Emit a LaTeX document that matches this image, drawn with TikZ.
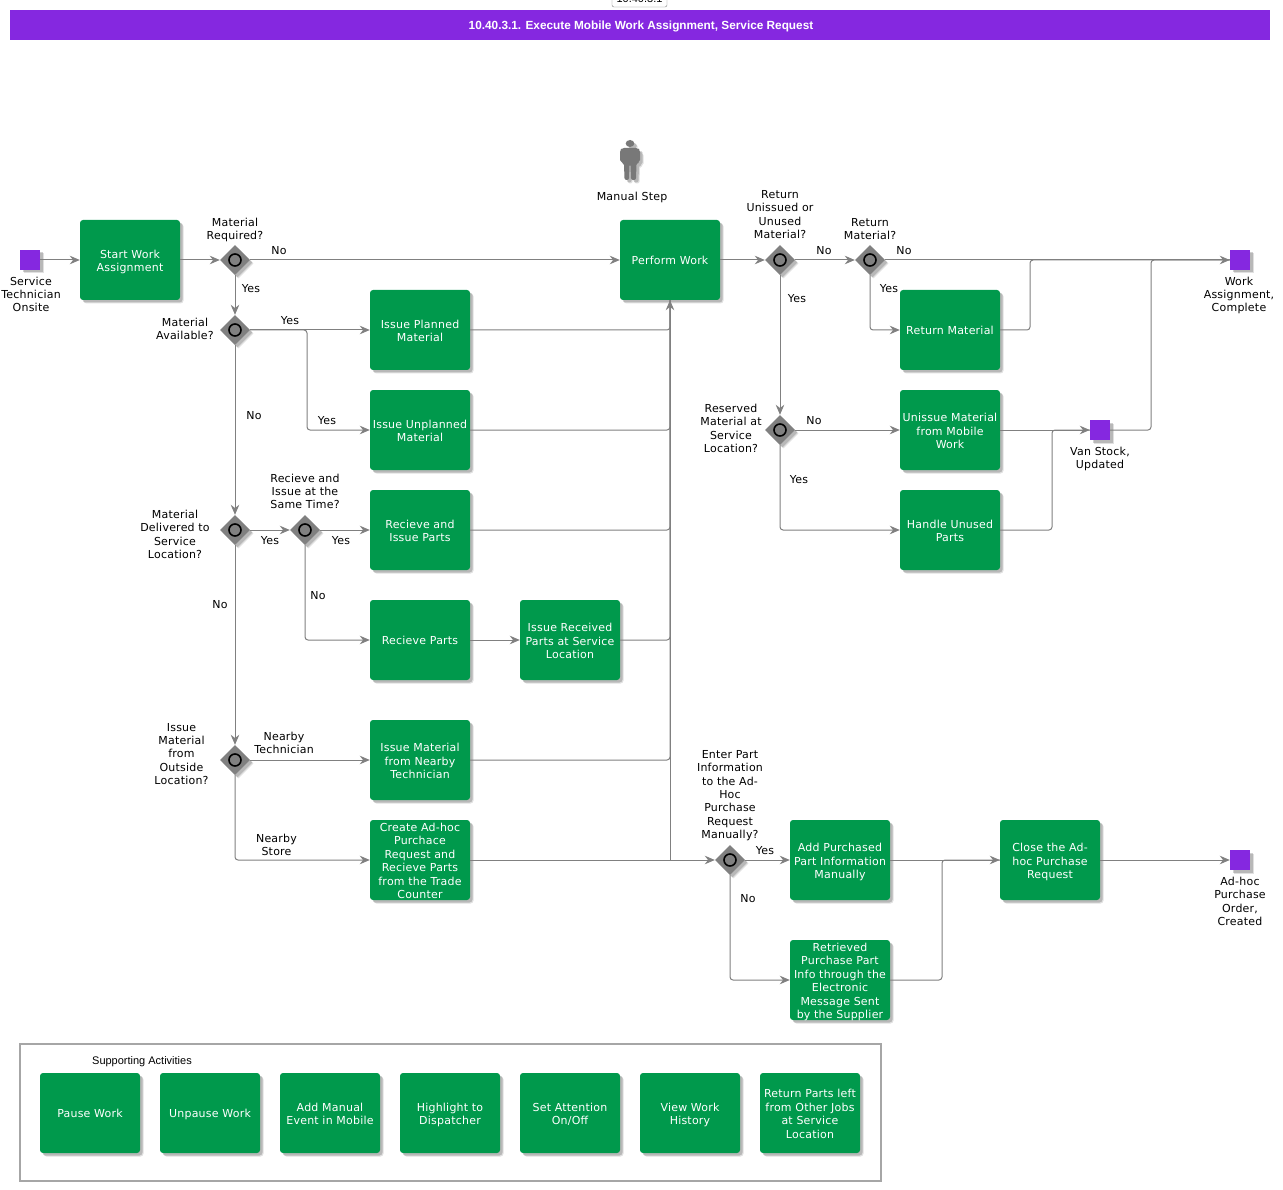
\documentclass[tikz,border=0pt]{standalone}
\usepackage{fontspec}
\setmainfont[LetterSpace=2]{DejaVu Sans}
\newfontfamily\arialfont{Liberation Sans}
\usetikzlibrary{arrows.meta,shapes.geometric,shadows,positioning}
\definecolor{vio}{HTML}{8528E0}
\definecolor{grn}{HTML}{00994C}
\definecolor{gry}{HTML}{808080}
\newcommand{\topstrut}{\rule{0pt}{9.5pt}}
\newcommand{\fs}{\rule{0pt}{12.5pt}}
\newcommand{\onestrut}{\rule{0pt}{11.5pt}}
\newcommand{\botstrut}{\rule[-2.5pt]{0pt}{2.5pt}}
\tikzset{
  softshadow/.style={
    general shadow={shadow xshift=3.5pt,shadow yshift=-3.5pt,fill=black,opacity=.12},
    general shadow={shadow xshift=2.5pt,shadow yshift=-2.5pt,fill=black,opacity=.18}},
  txt/.style={font=\fontsize{11}{13.35}\selectfont,align=center,inner sep=0pt,text=black,
    execute at begin node=\topstrut,execute at end node=\botstrut,yshift=-1.7pt},
  txtone/.style={txt,yshift=0.7pt},
  taskbase/.style={softshadow,rectangle,rounded corners=3pt,fill=grn,minimum width=100pt,minimum height=80pt,
    inner sep=0pt,align=center,text=white,font=\fontsize{11}{13.35}\selectfont,execute at end node=\botstrut},
  task/.style={taskbase},
  tasktall/.style={taskbase,inner ysep=-1pt},
  taskone/.style={taskbase,execute at begin node=\onestrut},
  ev/.style={softshadow,rectangle,fill=vio,minimum size=20pt,inner sep=0pt},
  gate/.style={softshadow,diamond,aspect=1,fill=gry,minimum size=30pt,inner sep=0pt,
    path picture={\draw[black,line width=1.6pt,fill=gry] (path picture bounding box.center) circle (6);}},
  conn/.style={draw=gry,line width=1pt,rounded corners=3pt,-{Stealth[length=10pt,width=8.5pt,fill=gry]}},
  plainconn/.style={draw=gry,line width=1pt,rounded corners=3pt},
}
\begin{document}
\begin{tikzpicture}[x=1pt,y=-1pt]
\useasboundingbox (0,0) rectangle (1283,1190);
% header
\node[rectangle,rounded corners=2pt,draw=gry,fill=white,minimum width=55pt,minimum height=16pt,inner sep=0pt,
  font=\arialfont\fontsize{11}{13}\selectfont] (tag) at (639.5,-1) {10.40.3.1};
\node[rectangle,fill=vio,minimum width=1260pt,minimum height=30pt,inner sep=0pt] (title) at (640,25) {};
\node[text=white,inner sep=0pt,font=\arialfont\bfseries\fontsize{11.8}{14}\selectfont] (titletext) at (641,26.3) {10.40.3.1. Execute Mobile Work Assignment, Service Request};
% supporting frame
\node[rectangle,draw=black!35,line width=2pt,minimum width=861pt,minimum height=137pt,inner sep=0pt] (frame) at (450.5,1112.5) {};
\node[font=\arialfont\fontsize{11}{13}\selectfont,inner sep=0pt] (suplab) at (142,1062) {Supporting Activities};
% manual step icon
\begin{scope}[fill=black!53]
  \fill[softshadow] (630,143.5) ellipse (4.3 and 3.5);
  \fill[softshadow,rounded corners=2pt] (622,148) -- (638,148) -- (640,150) -- (640,162) -- (637,163) -- (636.5,163)
     -- (636,180) -- (631,180) -- (630.5,164) -- (629.5,164) -- (629,180) -- (624.5,180) -- (624,163) -- (620,162) -- (620,150) -- cycle;
\end{scope}
\node[txtone] (manual) at (632,196) {Manual Step};
% events
\node[ev] (s1) at (30,260) {};
\node[ev] (e2) at (1240,260) {};
\node[ev] (e3) at (1100,430) {};
\node[ev] (e4) at (1240,860) {};
% gateways
\node[gate] (g1) at (235,260) {};
\node[gate] (g2) at (235,330) {};
\node[gate] (g3) at (235,530) {};
\node[gate] (g4) at (305,530) {};
\node[gate] (g5) at (235,760) {};
\node[gate] (g6) at (780,260) {};
\node[gate] (g7) at (870,260) {};
\node[gate] (g8) at (780,430) {};
\node[gate] (g9) at (730,860) {};
% tasks
\node[task] (t1) at (130,260) {\fs Start Work\\Assignment};
\node[task] (t2) at (420,330) {\fs Issue Planned\\Material};
\node[task] (t3) at (420,430) {\fs Issue Unplanned\\Material};
\node[task] (t4) at (420,530) {\fs Recieve and\\Issue Parts};
\node[taskone] (t5) at (420,640) {Recieve Parts};
\node[task] (t6) at (570,640) {\fs Issue Received\\Parts at Service\\Location};
\node[task] (t7) at (420,760) {\fs Issue Material\\from Nearby\\Technician};
\node[tasktall] (t8) at (420,860) {\fs Create Ad-hoc\\Purchace\\Request and\\Recieve Parts\\from the Trade\\Counter};
\node[taskone] (t9) at (670,260) {Perform Work};
\node[taskone] (t10) at (950,330) {Return Material};
\node[task] (t11) at (950,430) {\fs Unissue Material\\from Mobile\\Work};
\node[task] (t12) at (950,530) {\fs Handle Unused\\Parts};
\node[task] (t13) at (840,860) {\fs Add Purchased\\Part Information\\Manually};
\node[tasktall] (t14) at (840,980) {\fs Retrieved\\Purchase Part\\Info through the\\Electronic\\Message Sent\\by the Supplier};
\node[task] (t15) at (1050,860) {\fs Close the Ad-\\hoc Purchase\\Request};
\node[taskone] (a1) at (90,1113) {Pause Work};
\node[taskone] (a2) at (210,1113) {Unpause Work};
\node[task] (a3) at (330,1113) {\fs Add Manual\\Event in Mobile};
\node[task] (a4) at (450,1113) {\fs Highlight to\\Dispatcher};
\node[task] (a5) at (570,1113) {\fs Set Attention\\On/Off};
\node[task] (a6) at (690,1113) {\fs View Work\\History};
\node[task] (a7) at (810,1113) {\fs Return Parts left\\from Other Jobs\\at Service\\Location};
% bend points
\coordinate (b1) at (307,330);
\coordinate (b2) at (1030,330);
\coordinate (b3) at (1052,530);
\coordinate (b4) at (1151,430);
\coordinate (b5) at (942,980);
% connectors
\draw[conn] (s1.east) -- (t1.west);
\draw[conn] (t1.east) -- (g1.west);
\draw[conn] (g1.east) -- (t9.west);
\draw[conn] (g1.south) -- (g2.north);
\draw[conn] (g2.east) -- (t2.west);
\draw[conn] (g2.east) -- (b1) |- (t3.west);
\draw[conn] (g2.south) -- (g3.north);
\draw[conn] (g3.east) -- (g4.west);
\draw[conn] (g4.east) -- (t4.west);
\draw[conn] (g4.south) |- (t5.west);
\draw[conn] (t5.east) -- (t6.west);
\draw[conn] (g3.south) -- (g5.north);
\draw[conn] (g5.east) -- (t7.west);
\draw[conn] (g5.south) |- (t8.west);
\draw[conn] (t2.east) -| (t9.south);
\draw[plainconn] (t3.east) -| (t9.south);
\draw[plainconn] (t4.east) -| (t9.south);
\draw[plainconn] (t6.east) -| (t9.south);
\draw[plainconn] (t7.east) -| (t9.south);
\draw[plainconn,rounded corners=0pt] (t8.east) -| (t9.south);
\draw[conn] (t8.east) -- (g9.west);
\draw[conn] (g9.east) -- (t13.west);
\draw[conn] (g9.south) |- (t14.west);
\draw[conn] (t13.east) -- (t15.west);
\draw[plainconn] (t14.east) -- (b5) |- (t15.west);
\draw[conn] (t15.east) -- (e4.west);
\draw[conn] (t9.east) -- (g6.west);
\draw[conn] (g6.east) -- (g7.west);
\draw[conn] (g7.east) -- (e2.west);
\draw[conn] (g7.south) |- (t10.west);
\draw[plainconn] (t10.east) -- (b2) |- (e2.west);
\draw[conn] (g6.south) -- (g8.north);
\draw[conn] (g8.east) -- (t11.west);
\draw[conn] (g8.south) |- (t12.west);
\draw[conn] (t11.east) -- (e3.west);
\draw[plainconn] (t12.east) -- (b3) |- (e3.west);
\draw[plainconn] (e3.east) -- (b4) |- (e2.west);
% event and gateway labels
\node[txt] (ls1) at (31,294) {Service\\Technician\\Onsite};
\node[txt] (le2) at (1239,294) {Work\\Assignment,\\Complete};
\node[txt] (le3) at (1100,457.5) {Van Stock,\\Updated};
\node[txt] (le4) at (1240,901) {Ad-hoc\\Purchase\\Order,\\Created};
\node[txt] (lg1) at (235,228.5) {Material\\Required?};
\node[txt] (lg2) at (185,328.5) {Material\\Available?};
\node[txt] (lg3) at (175,534) {Material\\Delivered to\\Service\\Location?};
\node[txt] (lg4) at (305,491) {Recieve and\\Issue at the\\Same Time?};
\node[txt] (lg5) at (181.5,753.5) {Issue\\Material\\from\\Outside\\Location?};
\node[txt] (lg6) at (780,214) {Return\\Unissued or\\Unused\\Material?};
\node[txt] (lg7) at (870,228.5) {Return\\Material?};
\node[txt] (lg8) at (731,428) {Reserved\\Material at\\Service\\Location?};
\node[txt] (lg9) at (730,794) {Enter Part\\Information\\to the Ad-\\Hoc\\Purchase\\Request\\Manually?};
% connector labels
\node[txtone] (c1) at (279,250) {No};
\node[txtone] (c2) at (251,288) {Yes};
\node[txtone] (c3) at (290,320) {Yes};
\node[txtone] (c4) at (327,420) {Yes};
\node[txtone] (c5) at (254,415) {No};
\node[txtone] (c6) at (270,540) {Yes};
\node[txtone] (c7) at (341,540) {Yes};
\node[txtone] (c8) at (318,595) {No};
\node[txtone] (c9) at (220,604) {No};
\node[txt] (c10) at (284,742.5) {Nearby\\Technician};
\node[txt] (c11) at (276.5,844.5) {Nearby\\Store};
\node[txtone] (c12) at (824,250) {No};
\node[txtone] (c13) at (904,250) {No};
\node[txtone] (c14) at (889,288) {Yes};
\node[txtone] (c15) at (797,298) {Yes};
\node[txtone] (c16) at (814,420) {No};
\node[txtone] (c17) at (799,479) {Yes};
\node[txtone] (c18) at (765,850) {Yes};
\node[txtone] (c19) at (748,898) {No};
\end{tikzpicture}
\end{document}
